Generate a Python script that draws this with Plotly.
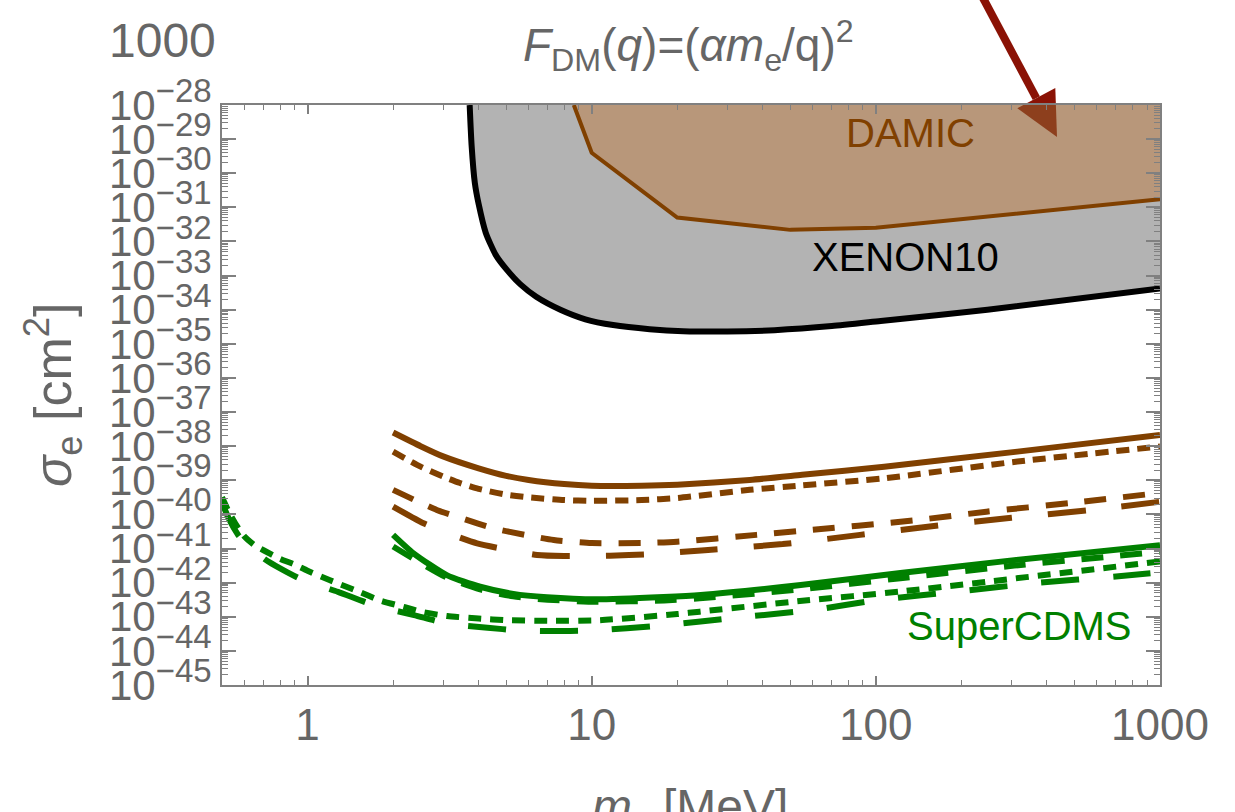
import plotly.graph_objects as go

# ---- exclusion regions (DM mass in MeV, log10 of sigma_e in cm^2) ----
xenon_m = [3.72, 3.78, 3.88, 4.0, 4.24, 4.6, 5.04, 5.6, 6.38, 7.76, 9.5, 11.9, 16, 21, 30, 44, 70, 104, 247, 1000]
xenon_logs = [-28.0, -29.2, -30.29, -30.9, -31.75, -32.4, -32.84, -33.25, -33.62, -34.0, -34.28, -34.45,
              -34.57, -34.63, -34.64, -34.6, -34.48, -34.33, -34.0, -33.38]

damic_m = [8.65, 9.03, 10, 20, 50, 100, 1000]
damic_logs = [-28.0, -28.44, -29.4, -31.3, -31.66, -31.6, -30.76]

# ---- projected reaches, brown family ----
br_solid_m = [2, 2.5, 3, 4, 5, 6, 8, 10, 15, 20, 36, 55, 107, 315, 1000]
br_solid_logs = [-37.6, -38.0, -38.3, -38.65, -38.87, -38.99, -39.11, -39.16, -39.16, -39.13, -38.99,
                 -38.84, -38.6, -38.16, -37.67]

br_dot_m = [2, 2.5, 3, 3.44, 4, 5, 6, 8, 10, 15, 20, 36, 55, 107, 315, 1000]
br_dot_logs = [-38.16, -38.6, -38.89, -39.08, -39.25, -39.42, -39.5, -39.58, -39.6, -39.58, -39.52, -39.28,
               -39.15, -38.94, -38.45, -38.01]

br_dash_m = [2, 2.5, 2.85, 3.5, 4.52, 6, 7.35, 10, 15, 20, 38, 55, 135, 245, 480, 1000]
br_dash_logs = [-39.28, -39.66, -39.87, -40.12, -40.41, -40.62, -40.75, -40.84, -40.84, -40.8, -40.6,
                -40.48, -40.18, -39.92, -39.67, -39.37]

br_long_m = [2, 2.56, 3, 3.95, 5, 6.43, 8, 11.6, 15.7, 25, 47, 88, 160, 300, 570, 1000]
br_long_logs = [-39.77, -40.26, -40.5, -40.85, -41.03, -41.19, -41.22, -41.21, -41.17, -41.05, -40.87,
                -40.6, -40.34, -40.1, -39.87, -39.63]

# ---- projected reaches, green family (SuperCDMS) ----
gr_solid_m = [2, 2.36, 3.09, 4.05, 5.3, 6.96, 10.4, 17.9, 24.2, 54.4, 122, 307, 1000]
gr_solid_logs = [-40.6, -41.14, -41.78, -42.12, -42.33, -42.43, -42.49, -42.42, -42.36, -42.07, -41.72,
                 -41.34, -40.9]

gr_dash_m = [2, 2.36, 3.09, 4.05, 5.3, 7, 10.4, 18, 24, 54, 122, 307, 1000]
gr_dash_logs = [-40.94, -41.3, -41.85, -42.2, -42.4, -42.5, -42.56, -42.52, -42.46, -42.2, -41.87,
                -41.5, -41.1]

gr_dot_m = [0.5, 0.53, 0.56, 0.6, 0.65, 0.7, 0.8, 0.9, 1.0, 1.2, 1.5, 1.8, 2.2, 2.5, 3.1, 4, 5, 7,
            10.7, 20, 24, 54, 122, 1000]
gr_dot_logs = [-39.5, -39.95, -40.3, -40.65, -40.9, -41.05, -41.3, -41.47, -41.65, -41.93, -42.25,
               -42.52, -42.72, -42.85, -42.98, -43.05, -43.1, -43.12, -43.1, -42.92, -42.85, -42.54,
               -42.26, -41.38]

gr_long_m = [0.5, 0.53, 0.57, 0.62, 0.73, 0.85, 0.96, 1.28, 1.74, 2.37, 3.1, 4.3, 5.5, 7, 10, 17.5,
             32, 60, 104, 200, 380, 700, 1000]
gr_long_logs = [-39.65, -40.15, -40.6, -40.95, -41.39, -41.7, -41.92, -42.27, -42.68, -42.95, -43.2,
                -43.32, -43.4, -43.42, -43.4, -43.26, -43.03, -42.8, -42.5, -42.25, -42.0, -41.82, -41.7]

# axis ticks
x_major = [1, 10, 100, 1000]
y_exponents = list(range(-45, -27))

BROWN = "#804000"
GREEN = "#008000"
GRAY_TXT = "#666666"
AXIS = "#808080"
ARROW = "#8a1205"


def sig(vals):
    return [10.0 ** v for v in vals]


fig = go.Figure()

# XENON10 band: between its limit curve and the DAMIC boundary
gx = xenon_m + damic_m[::-1] + [xenon_m[0]]
gy = xenon_logs + damic_logs[::-1] + [xenon_logs[0]]
fig.add_trace(go.Scatter(x=gx, y=sig(gy), mode="lines", fill="toself", fillcolor="#b3b3b3",
                         line=dict(width=0), hoverinfo="skip", showlegend=False))

# DAMIC region (translucent)
dx = damic_m + [damic_m[-1], damic_m[0]]
dy = damic_logs + [-28.0, damic_logs[0]]
fig.add_trace(go.Scatter(x=dx, y=sig(dy), mode="lines", fill="toself",
                         fillcolor="rgba(142,90,44,0.63)", line=dict(width=0),
                         hoverinfo="skip", showlegend=False))

fig.add_trace(go.Scatter(x=damic_m, y=sig(damic_logs), mode="lines",
                         line=dict(color=BROWN, width=4), showlegend=False))
fig.add_trace(go.Scatter(x=xenon_m, y=sig(xenon_logs), mode="lines",
                         line=dict(color="black", width=6, shape="spline", smoothing=0.6),
                         showlegend=False))

curves = [
    (br_solid_m, br_solid_logs, BROWN, "solid"),
    (br_dot_m, br_dot_logs, BROWN, "13px,8px"),
    (br_dash_m, br_dash_logs, BROWN, "22px,17px"),
    (br_long_m, br_long_logs, BROWN, "38px,36px"),
    (gr_solid_m, gr_solid_logs, GREEN, "solid"),
    (gr_dash_m, gr_dash_logs, GREEN, "22px,17px"),
    (gr_dot_m, gr_dot_logs, GREEN, "13px,9px"),
    (gr_long_m, gr_long_logs, GREEN, "38px,34px"),
]
for xm, ylog, col, dash in curves:
    fig.add_trace(go.Scatter(x=xm, y=sig(ylog), mode="lines",
                             line=dict(color=col, width=6, dash=dash, shape="spline", smoothing=0.6),
                             showlegend=False))

# plot-area geometry (pixels) used for the paper-referenced decorations
L, R, T, B = 222, 1160, 105, 685
W, H = R - L, B - T


def px(x):
    return (x - L) / W


def py(y):
    return 1 - (y - T) / H


# arrow pointing into the DAMIC region, drawn beneath the translucent fill
tip = (1057, 137)
base_mid = (1036.3, 98.1)
c1, c2 = (1055.3, 88.0), (1017.3, 108.2)
start = (981.4, -5)
fig.add_shape(type="line", xref="paper", yref="paper", layer="below",
              x0=px(start[0]), y0=py(start[1]), x1=px(base_mid[0]), y1=py(base_mid[1]),
              line=dict(color=ARROW, width=8))
fig.add_shape(type="path", xref="paper", yref="paper", layer="below",
              path=f"M {px(c1[0])} {py(c1[1])} L {px(tip[0])} {py(tip[1])} L {px(c2[0])} {py(c2[1])} Z",
              fillcolor=ARROW, line=dict(width=0))

FONT = "Liberation Sans, Arial, sans-serif"

annotations = [
    dict(text="DAMIC", x=px(910), y=py(133), font=dict(size=40, color=BROWN)),
    dict(text="XENON10", x=px(905), y=py(257), font=dict(size=40, color="black")),
    dict(text="SuperCDMS", x=px(1019), y=py(626), font=dict(size=40, color=GREEN)),
    dict(text="1000", x=px(162), y=py(40), font=dict(size=48, color=GRAY_TXT)),
    dict(text="<i>F</i><sub>DM</sub>(<i>q</i>)=(<i>αm</i><sub>e</sub>/q)<sup>2</sup>",
         x=px(688), y=py(45), font=dict(size=46, color=GRAY_TXT)),
    dict(text="<i>m</i><sub>χ</sub> [MeV]", x=px(690), y=py(778), yanchor="top",
         font=dict(size=48, color=GRAY_TXT)),
    dict(text="<i>σ</i><sub>e</sub> [cm<sup>2</sup>]", x=px(53), y=py(395), textangle=-90,
         font=dict(size=52, color=GRAY_TXT)),
]
for a in annotations:
    a.setdefault("yanchor", "middle")
    fig.add_annotation(xref="paper", yref="paper", xanchor="center", showarrow=False, **a)

x_minor = [k * 10.0 ** e for e in range(-1, 3) for k in range(2, 10) if 0.5 <= k * 10.0 ** e <= 1000]
y_minor = [k * 10.0 ** e for e in range(-45, -28) for k in range(2, 10)]

fig.update_xaxes(type="log", range=[-0.30103, 3], showgrid=False, zeroline=False,
                 showline=True, linecolor=AXIS, linewidth=2, mirror="allticks",
                 ticks="inside", ticklen=9, tickwidth=1.5, tickcolor=AXIS,
                 tickmode="array", tickvals=x_major, ticktext=[str(v) for v in x_major],
                 tickfont=dict(size=44, color=GRAY_TXT, family=FONT),
                 minor=dict(ticks="inside", ticklen=5, tickwidth=1, tickcolor=AXIS,
                            tickmode="array", tickvals=x_minor, showgrid=False))
fig.update_yaxes(type="log", range=[-45, -28], showgrid=False, zeroline=False,
                 showline=True, linecolor=AXIS, linewidth=2, mirror="allticks",
                 ticks="inside", ticklen=14, tickwidth=1.5, tickcolor=AXIS,
                 tickmode="array", tickvals=[10.0 ** e for e in y_exponents],
                 ticktext=[f"10<sup><span style='font-size:33px'>−{abs(e)}</span></sup>"
                           for e in y_exponents],
                 tickfont=dict(size=42, color=GRAY_TXT, family=FONT),
                 minor=dict(ticks="inside", ticklen=6, tickwidth=1, tickcolor=AXIS,
                            tickmode="array", tickvals=y_minor, showgrid=False))

fig.update_layout(width=1235, height=812, margin=dict(l=L, r=1235 - R, t=T, b=812 - B),
                  paper_bgcolor="white", plot_bgcolor="white",
                  font=dict(family=FONT, color=GRAY_TXT), showlegend=False)

fig.write_html("out.html")
